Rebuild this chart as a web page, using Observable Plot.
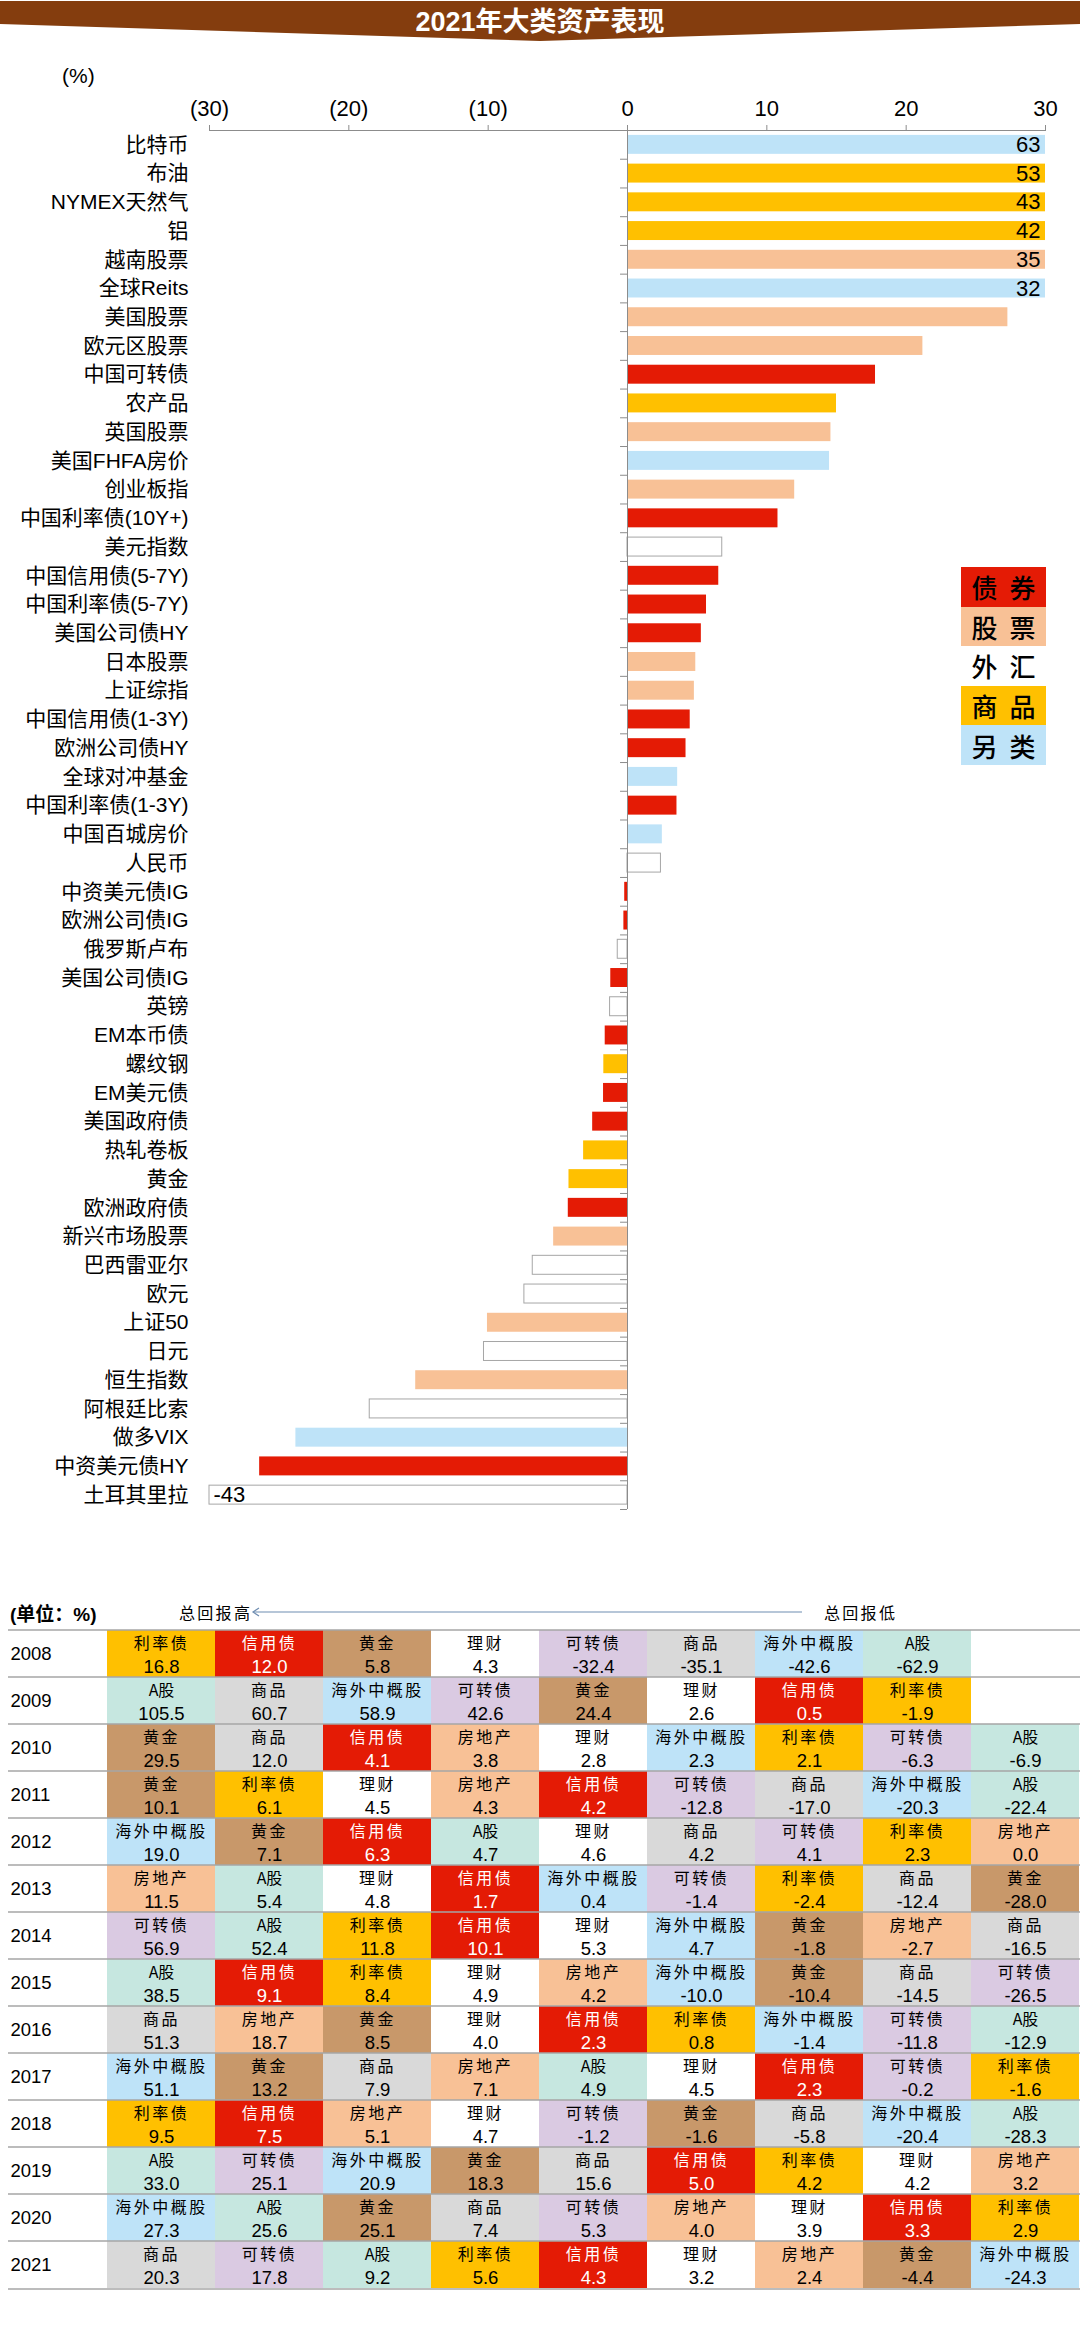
<!DOCTYPE html>
<html><head><meta charset="utf-8">
<script src="https://cdn.jsdelivr.net/npm/d3@7"></script>
<script src="https://cdn.jsdelivr.net/npm/@observablehq/plot@0.6"></script>
<style>
body{margin:0;background:#fff;}
#page{position:relative;width:1080px;height:2337px;overflow:hidden;font-family:"Liberation Sans","Noto Sans CJK SC",sans-serif;color:#000;}
.abs{position:absolute;}
#legend div{width:85px;height:39.6px;display:flex;justify-content:center;align-items:center;gap:12px;font-family:"Noto Sans CJK SC";font-size:26px;font-weight:500;}
</style></head><body><div id="page">
<svg class="abs" style="left:0;top:0" width="1080" height="44">
  <polygon points="0,1 1080,1 1080,24 540,41 0,24" fill="#843d0e"/>
  <text x="540" y="31" text-anchor="middle" fill="#fff" font-size="27" font-weight="bold" font-family="Liberation Sans Narrow, Liberation Sans, Noto Sans CJK SC">2021年大类资产表现</text>
</svg>
<div class="abs" style="left:62px;top:64px;font-size:21px;">(%)</div>
<div id="chart" class="abs" style="left:0;top:0"></div>
<div id="legend" class="abs" style="left:961px;top:567px;"></div>
<div class="abs" style="left:10px;top:1599px;font-size:19px;font-weight:bold;">(单位：%)</div>
<div class="abs" style="left:179px;top:1600px;font-size:16px;letter-spacing:2.3px;font-family:'Noto Sans CJK SC'">总回报高</div>
<svg class="abs" style="left:0;top:1600px" width="1080" height="24">
  <line x1="253" y1="12" x2="802" y2="12" stroke="#6f8db1" stroke-width="1.2"/>
  <polyline points="259,8 253,12 259,16" fill="none" stroke="#6f8db1" stroke-width="1.2"/>
</svg>
<div class="abs" style="left:824px;top:1600px;font-size:16px;letter-spacing:2.3px;font-family:'Noto Sans CJK SC'">总回报低</div>
<div id="table" class="abs" style="left:0;top:1621px"></div>
</div>
<script>
// ---------- Chart 1: 2021 asset returns ----------
const categories = ["比特币","布油","NYMEX天然气","铝","越南股票","全球Reits","美国股票","欧元区股票","中国可转债","农产品","英国股票","美国FHFA房价","创业板指","中国利率债(10Y+)","美元指数","中国信用债(5-7Y)","中国利率债(5-7Y)","美国公司债HY","日本股票","上证综指","中国信用债(1-3Y)","欧洲公司债HY","全球对冲基金","中国利率债(1-3Y)","中国百城房价","人民币","中资美元债IG","欧洲公司债IG","俄罗斯卢布","美国公司债IG","英镑","EM本币债","螺纹钢","EM美元债","美国政府债","热轧卷板","黄金","欧洲政府债","新兴市场股票","巴西雷亚尔","欧元","上证50","日元","恒生指数","阿根廷比索","做多VIX","中资美元债HY","土耳其里拉"];
const returns2021 = [63,53,43,42,35,32,27.3,21.2,17.8,15.0,14.6,14.5,12.0,10.8,6.8,6.55,5.67,5.3,4.9,4.8,4.5,4.2,3.6,3.55,2.5,2.4,-0.2,-0.26,-0.7,-1.2,-1.25,-1.6,-1.7,-1.72,-2.5,-3.15,-4.2,-4.25,-5.3,-6.8,-7.4,-10.05,-10.3,-15.2,-18.5,-23.8,-26.4,-43];
const assetClass = ["另类","商品","商品","商品","股票","另类","股票","股票","债券","商品","股票","另类","股票","债券","外汇","债券","债券","债券","股票","股票","债券","债券","另类","债券","另类","外汇","债券","债券","外汇","债券","外汇","债券","商品","债券","债券","商品","商品","债券","股票","外汇","外汇","股票","外汇","股票","外汇","另类","债券","外汇"];
const classNames = ["债券","股票","外汇","商品","另类"];
const classColors = ["#e41b05","#f8c196","#ffffff","#ffc000","#bee3f8"];
const xTicks = [-30,-20,-10,0,10,20,30];

const rows = categories.map((name, i) => ({name, value: returns2021[i], cls: assetClass[i]}));
const over = rows.filter(d => Math.abs(d.value) > 30);
const gray = "#8c8c8c";
const H1 = 1529, MT = 130, MB = 20, step = (H1 - MT - MB) / categories.length;

const chart = Plot.plot({
  width: 1080, height: H1,
  marginTop: MT, marginBottom: MB, marginLeft: 209, marginRight: 35,
  style: {fontFamily: "Liberation Sans, Noto Sans CJK SC, sans-serif", fontSize: "21px", background: "transparent", overflow: "visible", color: "#000"},
  x: {domain: [-30, 30], clamp: true, axis: null, label: null},
  y: {type: "band", domain: categories, paddingInner: 0.34, paddingOuter: 0.17, axis: null, label: null},
  color: {domain: classNames, range: classColors},
  marks: [
    Plot.barX(rows, {x1: 0, x2: "value", y: "name", fill: "cls"}),
    Plot.barX(rows.filter(d => d.cls === "外汇"), {x1: 0, x2: "value", y: "name", fill: "none", stroke: "#a6a6a6", strokeWidth: 1}),
    Plot.ruleX([0], {stroke: gray}),
    Plot.ruleY(categories, {y: d => d, x1: -0.5, x2: 0, dy: step / 2, stroke: gray}),
    Plot.frame({anchor: "top", stroke: gray}),
    Plot.axisX({anchor: "top", ticks: xTicks, tickFormat: d => d < 0 ? `(${-d})` : `${d}`, tickSize: 6, tickPadding: 9, fontSize: 22, stroke: gray, fill: "#000", label: null}),
    Plot.axisY({anchor: "left", tickSize: 0, tickPadding: 21, fontSize: 21, fill: "#000", label: null}),
    Plot.text(over.filter(d => d.value > 0), {x: "value", y: "name", text: d => String(Math.round(d.value)), textAnchor: "end", dx: -5, fontSize: 22, fill: "#000"}),
    Plot.text(over.filter(d => d.value < 0), {x: "value", y: "name", text: d => String(Math.round(d.value)), textAnchor: "start", dx: 4, fontSize: 22, fill: "#000"})
  ]
});
document.getElementById("chart").appendChild(chart);

// legend
const legend = document.getElementById("legend");
classNames.forEach((c, i) => {
  const div = document.createElement("div");
  div.style.background = classColors[i];
  for (const ch of c) { const s = document.createElement("span"); s.textContent = ch; div.appendChild(s); }
  legend.appendChild(div);
});

// ---------- Table: yearly ranking of returns ----------
const years = [2008,2009,2010,2011,2012,2013,2014,2015,2016,2017,2018,2019,2020,2021];
const rankNames = [
  ["利率债","信用债","黄金","理财","可转债","商品","海外中概股","A股"],
  ["A股","商品","海外中概股","可转债","黄金","理财","信用债","利率债"],
  ["黄金","商品","信用债","房地产","理财","海外中概股","利率债","可转债","A股"],
  ["黄金","利率债","理财","房地产","信用债","可转债","商品","海外中概股","A股"],
  ["海外中概股","黄金","信用债","A股","理财","商品","可转债","利率债","房地产"],
  ["房地产","A股","理财","信用债","海外中概股","可转债","利率债","商品","黄金"],
  ["可转债","A股","利率债","信用债","理财","海外中概股","黄金","房地产","商品"],
  ["A股","信用债","利率债","理财","房地产","海外中概股","黄金","商品","可转债"],
  ["商品","房地产","黄金","理财","信用债","利率债","海外中概股","可转债","A股"],
  ["海外中概股","黄金","商品","房地产","A股","理财","信用债","可转债","利率债"],
  ["利率债","信用债","房地产","理财","可转债","黄金","商品","海外中概股","A股"],
  ["A股","可转债","海外中概股","黄金","商品","信用债","利率债","理财","房地产"],
  ["海外中概股","A股","黄金","商品","可转债","房地产","理财","信用债","利率债"],
  ["商品","可转债","A股","利率债","信用债","理财","房地产","黄金","海外中概股"]
];
const rankValues = [
  [16.8,12.0,5.8,4.3,-32.4,-35.1,-42.6,-62.9],
  [105.5,60.7,58.9,42.6,24.4,2.6,0.5,-1.9],
  [29.5,12.0,4.1,3.8,2.8,2.3,2.1,-6.3,-6.9],
  [10.1,6.1,4.5,4.3,4.2,-12.8,-17.0,-20.3,-22.4],
  [19.0,7.1,6.3,4.7,4.6,4.2,4.1,2.3,0.0],
  [11.5,5.4,4.8,1.7,0.4,-1.4,-2.4,-12.4,-28.0],
  [56.9,52.4,11.8,10.1,5.3,4.7,-1.8,-2.7,-16.5],
  [38.5,9.1,8.4,4.9,4.2,-10.0,-10.4,-14.5,-26.5],
  [51.3,18.7,8.5,4.0,2.3,0.8,-1.4,-11.8,-12.9],
  [51.1,13.2,7.9,7.1,4.9,4.5,2.3,-0.2,-1.6],
  [9.5,7.5,5.1,4.7,-1.2,-1.6,-5.8,-20.4,-28.3],
  [33.0,25.1,20.9,18.3,15.6,5.0,4.2,4.2,3.2],
  [27.3,25.6,25.1,7.4,5.3,4.0,3.9,3.3,2.9],
  [20.3,17.8,9.2,5.6,4.3,3.2,2.4,-4.4,-24.3]
];
const assetNames = ["利率债","信用债","黄金","理财","可转债","商品","海外中概股","A股","房地产"];
const assetColors = ["#ffc000","#e41b05","#c8986a","#ffffff","#dacae2","#d9d9d9","#bee3f8","#c6e7e0","#f8c196"];

const cells = years.flatMap((year, r) => rankNames[r].map((name, col) => ({year, col, name, value: rankValues[r][col]})));
const isCredit = d => d.name === "信用债";
const H2 = 675, rowH = (H2 - 4) / years.length;

const table = Plot.plot({
  width: 1080, height: H2,
  marginTop: 2, marginBottom: 2, marginLeft: 8, marginRight: 0,
  style: {fontFamily: "Liberation Sans, Noto Sans CJK SC, sans-serif", fontSize: "18px", background: "transparent", overflow: "visible", color: "#000"},
  x: {type: "band", domain: d3.range(9), range: [107, 1079], padding: 0, axis: null},
  y: {type: "band", domain: years, padding: 0, axis: null},
  color: {domain: assetNames, range: assetColors},
  marks: [
    Plot.cell(cells, {x: "col", y: "year", fill: "name"}),
    Plot.ruleY(years, {y: d => d, dy: -rowH / 2, stroke: "#a6a6a6", strokeWidth: 1.6}),
    Plot.ruleY(years.slice(-1), {y: d => d, dy: rowH / 2, stroke: "#a6a6a6", strokeWidth: 1.6}),
    Plot.text(years, {y: d => d, text: d => String(d), frameAnchor: "left", dx: 2, textAnchor: "start", fontSize: 18.5, fill: "#000"}),
    Plot.text(cells.filter(d => !isCredit(d)), {x: "col", y: "year", text: "name", dy: -10, fontSize: 16, fill: "#000", fontFamily: "Noto Sans CJK SC"}),
    Plot.text(cells.filter(isCredit), {x: "col", y: "year", text: "name", dy: -10, fontSize: 16, fill: "#fff", fontFamily: "Noto Sans CJK SC"}),
    Plot.text(cells.filter(d => !isCredit(d)), {x: "col", y: "year", text: d => d.value.toFixed(1), dy: 13, fontSize: 18.5, fill: "#000"}),
    Plot.text(cells.filter(isCredit), {x: "col", y: "year", text: d => d.value.toFixed(1), dy: 13, fontSize: 18.5, fill: "#fff"})
  ]
});
d3.select(table).selectAll("text").filter(function(){ return /[\u4e00-\u9fff]/.test(this.textContent) && this.textContent !== "A股"; }).style("letter-spacing", "2.5px");
document.getElementById("table").appendChild(table);
</script>
</body></html>
